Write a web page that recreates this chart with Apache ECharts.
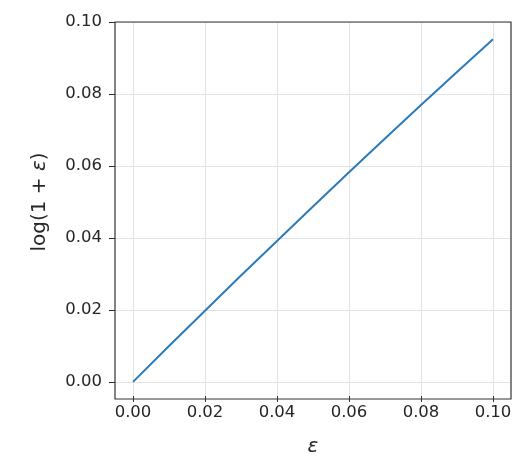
<!DOCTYPE html>
<html><head><meta charset="utf-8">
<script src="https://cdn.jsdelivr.net/npm/echarts@6/dist/echarts.min.js"></script>
<style>html,body{margin:0;padding:0;background:#fff}#c{width:523px;height:462px}</style>
</head><body><div id="c"></div>
<script>
const epsValues = [0, 0.01, 0.02, 0.03, 0.04, 0.05, 0.06, 0.07, 0.08, 0.09, 0.10];
const logValues = [0, 0.00995, 0.0198, 0.0296, 0.0392, 0.0488, 0.0583, 0.0677, 0.0770, 0.0862, 0.0953];
const xTickRange = [0, 0.10];
const yTickRange = [0, 0.10];
const tickStep = 0.02;
const xLimits = [-0.005, 0.105];
const yLimits = [-0.00477, 0.1001];

const font = 'DejaVu Sans';
const txt = '#262626';
const chart = echarts.init(document.getElementById('c'), null, {renderer: 'canvas'});
const fmt = v => v.toFixed(2);
chart.setOption({
  animation: false,
  grid: [
    {left: 115, top: 22, width: 396, height: 377, show: true, borderColor: '#333', borderWidth: 1.2, backgroundColor: 'transparent', z: 5},
    {left: 133, top: 22, width: 360, height: 377},
    {left: 115, top: 22, width: 396, height: 360}
  ],
  xAxis: [
    {gridIndex: 0, type: 'value', min: xLimits[0], max: xLimits[1], show: false},
    {gridIndex: 1, type: 'value', min: xTickRange[0], max: xTickRange[1], interval: tickStep,
     axisLine: {show: false}, axisTick: {show: true, length: 6, lineStyle: {color: '#333', width: 1}},
     axisLabel: {formatter: fmt, color: txt, fontFamily: font, fontSize: 16.5, margin: 8},
     splitLine: {show: true, lineStyle: {color: '#e3e3e3', width: 1}},
     name: 'ε', nameLocation: 'middle', nameGap: 41,
     nameTextStyle: {fontFamily: font, fontSize: 20, fontStyle: 'italic', color: txt}},
    {gridIndex: 2, type: 'value', min: 0, max: 1, show: false}
  ],
  yAxis: [
    {gridIndex: 0, type: 'value', min: yLimits[0], max: yLimits[1], show: false},
    {gridIndex: 1, type: 'value', min: 0, max: 1, show: false},
    {gridIndex: 2, type: 'value', min: yTickRange[0], max: yTickRange[1], interval: tickStep,
     axisLine: {show: false}, axisTick: {show: true, length: 6, lineStyle: {color: '#333', width: 1}},
     axisLabel: {formatter: fmt, color: txt, fontFamily: font, fontSize: 16.5, margin: 13},
     splitLine: {show: true, lineStyle: {color: '#e3e3e3', width: 1}},
     name: '{a|log(1 + }{b|ε}{a|)}', nameLocation: 'middle', nameGap: 65,
     nameTextStyle: {rich: {
       a: {fontFamily: font, fontSize: 20, color: txt},
       b: {fontFamily: font, fontSize: 20, fontStyle: 'italic', color: txt}}}}
  ],
  series: [{
    type: 'line', xAxisIndex: 0, yAxisIndex: 0,
    data: epsValues.map((x, i) => [x, logValues[i]]),
    showSymbol: false, symbol: 'none',
    lineStyle: {color: '#2b7bba', width: 2},
    z: 3
  }]
});
</script></body></html>
